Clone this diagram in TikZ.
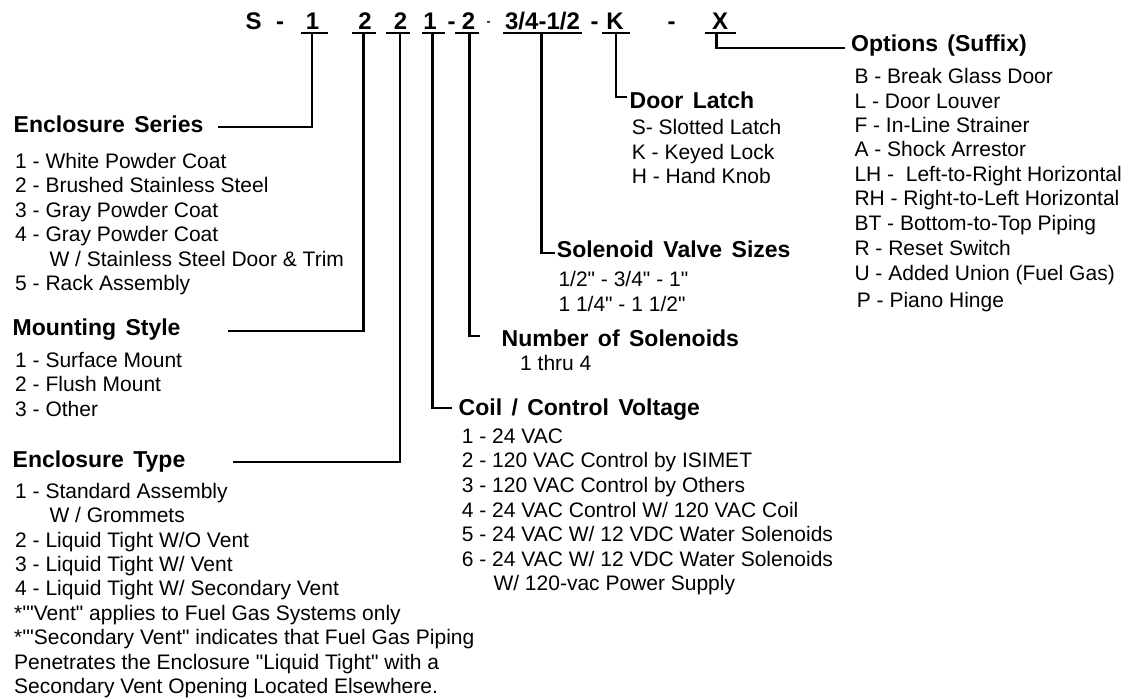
\documentclass[tikz,border=0pt]{standalone}
\usepackage{fontspec}
\setmainfont{Liberation Sans}[Ligatures=TeXOff]
\newcommand\myheadfont{\bfseries\fontsize{23}{27}\selectfont\spaceskip=9.4pt\relax}
\begin{document}
\begin{tikzpicture}[x=1pt,y=-1pt,
  conn/.style={line width=2.5pt, line join=miter},
  item/.style={anchor=base west, inner sep=0pt, font=\fontsize{21}{24.5}\selectfont},
  head/.style={anchor=base west, inner sep=0pt, font=\myheadfont},
  code/.style={anchor=base, inner sep=0pt, font=\bfseries\fontsize{24}{28}\selectfont}]
\useasboundingbox (0,0) rectangle (1131,698);
\fill[white] (0,0) rectangle (1131,698);

% ---- part code ----
\node[code] (kS) at (253.5,30) {S};
\node[code] (d1) at (280,30) {-};
\node[code] (k1) at (312.5,30) {1};
\node[code] (k2) at (365,30) {2};
\node[code] (k3) at (400.5,30) {2};
\node[code] (k4) at (430,30) {1};
\node[code] (d2) at (451.5,30) {-};
\node[code] (k5) at (468.5,30) {2};
\node[code, font=\bfseries\fontsize{12}{14}\selectfont] (d3) at (488.5,26) {-};
\node[code] (k6) at (542.5,30) {3/4-1/2};
\node[code] (d4) at (594.5,30) {-};
\node[code] (k7) at (615,30) {K};
\node[code] (d5) at (671.5,30) {-};
\node[code] (k8) at (720,30) {X};

% underlines
\draw[conn] (301,33) -- (328,33);
\draw[conn] (352,33) -- (376,33);
\draw[conn] (386,33) -- (410,33);
\draw[conn] (422,33) -- (445,33);
\draw[conn] (455,33) -- (479,33);
\draw[conn] (503,33) -- (582,33);
\draw[conn] (602,33) -- (630,33);
\draw[conn] (705,33) -- (736,33);

% connector ends
\coordinate (t1) at (312,33);   \coordinate (e1) at (218,127);
\coordinate (t2) at (363.3,33); \coordinate (e2) at (228,331);
\coordinate (t3) at (400,33);   \coordinate (e3) at (233,462);
\coordinate (t4) at (432.3,33); \coordinate (e4) at (452,408);
\coordinate (t5) at (469.5,33); \coordinate (e5) at (480,336);
\coordinate (t6) at (541.7,33); \coordinate (e6) at (555,253);
\coordinate (t7) at (616,33);   \coordinate (e7) at (627,97);
\coordinate (t8) at (716.7,33); \coordinate (e8) at (845,48);
\foreach \i in {1,...,8} \draw[conn] (t\i) |- (e\i);

% ---- Enclosure Series ----
\node[head] (es) at (13.5,132.7) {Enclosure Series};
\foreach \t [count=\i] in {{1 - White Powder Coat},{2 - Brushed Stainless Steel},{3 - Gray Powder Coat},{4 - Gray Powder Coat},{\hspace*{34.3pt}W / Stainless Steel Door \& Trim},{5 - Rack Assembly}}
  \node[item] (es\i) at (15,{168.3+24.5*(\i-1)}) {\t};

% ---- Mounting Style ----
\node[head] (ms) at (12.5,335) {Mounting Style};
\foreach \t [count=\i] in {{1 - Surface Mount},{2 - Flush Mount},{3 - Other}}
  \node[item] (ms\i) at (15,{367+24.5*(\i-1)}) {\t};

% ---- Enclosure Type ----
\node[head] (et) at (12.5,467.3) {Enclosure Type};
\foreach \t [count=\i] in {{1 - Standard Assembly},{\hspace*{34.3pt}W / Grommets},{2 - Liquid Tight W/O Vent},{3 - Liquid Tight W/ Vent},{4 - Liquid Tight W/ Secondary Vent},{\hspace*{-1pt}*'"Vent" applies to Fuel Gas Systems only},{\hspace*{-1pt}*'"Secondary Vent" indicates that Fuel Gas Piping},{\hspace*{-1pt}Penetrates the Enclosure "Liquid Tight" with a},{\hspace*{-1pt}Secondary Vent Opening Located Elsewhere.}}
  \node[item] (et\i) at (15,{498.3+24.4*(\i-1)}) {\t};

% ---- Coil / Control Voltage ----
\node[head] (cv) at (458.5,415) {Coil / Control Voltage};
\foreach \t [count=\i] in {{1 - 24 VAC},{2 - 120 VAC Control by ISIMET},{3 - 120 VAC Control by Others},{4 - 24 VAC Control W/ 120 VAC Coil},{5 - 24 VAC W/ 12 VDC Water Solenoids},{6 - 24 VAC W/ 12 VDC Water Solenoids},{\hspace*{31.6pt}W/ 120-vac Power Supply}}
  \node[item] (cv\i) at (461.7,{443.3+24.6*(\i-1)}) {\t};

% ---- Number of Solenoids ----
\node[head] (ns) at (501.5,346.7) {Number of Solenoids};
\node[item] (ns1) at (520,370) {1 thru 4};

% ---- Solenoid Valve Sizes ----
\node[head] (vs) at (556.7,257.3) {Solenoid Valve Sizes};
\node[item] (vs1) at (558.3,286.7) {1/2" - 3/4" - 1"};
\node[item] (vs2) at (558.3,311) {1 1/4" - 1 1/2"};

% ---- Door Latch ----
\node[head] (dl) at (629.5,108.3) {Door Latch};
\foreach \t [count=\i] in {{S- Slotted Latch},{K - Keyed Lock},{H - Hand Knob}}
  \node[item] (dl\i) at (631.7,{134.5+24.5*(\i-1)}) {\t};

% ---- Options (Suffix) ----
\node[head] (op) at (851,51.7) {Options (Suffix)};
\foreach \t/\yy [count=\i] in {{B - Break Glass Door}/83.3,{L - Door Louver}/108.3,{F - In-Line Strainer}/132.7,{A - Shock Arrestor}/156.7,{LH -\ \ Left-to-Right Horizontal}/181,{RH - Right-to-Left Horizontal}/205.7,{BT - Bottom-to-Top Piping}/230.7,{R - Reset Switch}/255,{U - Added Union (Fuel Gas)}/280}
  \node[item] (op\i) at (854.3,\yy) {\t};
\node[item] (op10) at (856.7,307.3) {P - Piano Hinge};
\end{tikzpicture}
\end{document}
